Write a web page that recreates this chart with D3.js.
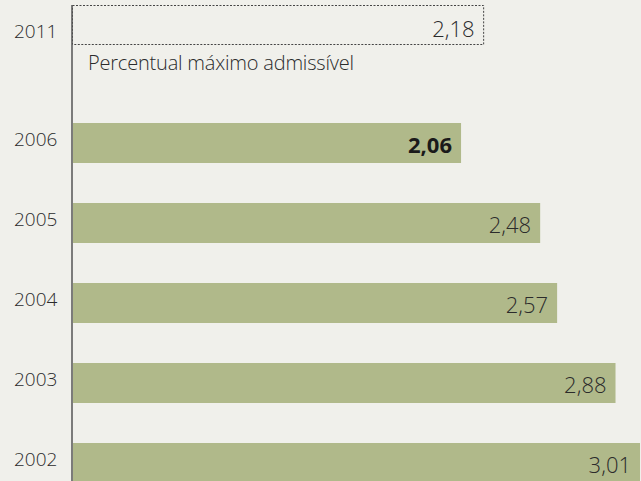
<!DOCTYPE html>
<html>
<head>
<meta charset="utf-8">
<script src="https://cdn.jsdelivr.net/npm/d3@7.9.0/dist/d3.min.js"></script>
<style>
  html, body { margin: 0; padding: 0; background: #f0f0eb; }
  svg { display: block; font-family: "Open Sans", "Noto Sans", sans-serif; }
</style>
</head>
<body>
<div id="chart"></div>
<script>
// Data
const years = ["2006", "2005", "2004", "2003", "2002"];
const values = [2.06, 2.48, 2.57, 2.88, 3.01];
const limitYear = ["2011"];
const limitValue = [2.18];
const limitLabel = "Percentual máximo admissível";
const highlightYear = "2006";

const width = 641;
const height = 481;
const axisX = 72;

const fmt = (v) => v.toFixed(2).replace(".", ",");

const xScale = d3.scaleLinear().domain([0, 3.01]).range([axisX + 1, 640]);
const yScale = d3
  .scaleBand()
  .domain(years)
  .range([103, 503])
  .paddingInner(0.5)
  .paddingOuter(0.25);
const yLimit = d3.scaleBand().domain(limitYear).range([5, 44]);

const svg = d3
  .select("#chart")
  .append("svg")
  .attr("width", width)
  .attr("height", height);

svg
  .append("rect")
  .attr("width", width)
  .attr("height", height)
  .attr("fill", "#f0f0eb");

// Bars
svg
  .append("g")
  .selectAll("rect")
  .data(years)
  .enter()
  .append("rect")
  .attr("x", xScale(0))
  .attr("y", (d) => yScale(d))
  .attr("width", (d, i) => xScale(values[i]) - xScale(0))
  .attr("height", yScale.bandwidth())
  .attr("fill", "#b0b98a");

// Limit box (2011)
svg
  .append("g")
  .selectAll("rect")
  .data(limitYear)
  .enter()
  .append("rect")
  .attr("x", axisX + 0.5)
  .attr("y", (d) => yLimit(d) + 0.5)
  .attr("width", (d, i) => xScale(limitValue[i]) - axisX - 0.5)
  .attr("height", yLimit.bandwidth())
  .attr("fill", "none")
  .attr("stroke", "#444")
  .attr("stroke-width", 1)
  .attr("stroke-dasharray", "2,1.5");

// Value labels
svg
  .append("g")
  .selectAll("text")
  .data(years)
  .enter()
  .append("text")
  .attr("x", (d, i) => xScale(values[i]) - 9)
  .attr("y", (d) => yScale(d) + yScale.bandwidth() / 2 + 10)
  .attr("text-anchor", "end")
  .attr("font-size", 22)
  .attr("font-weight", (d) => (d === highlightYear ? 700 : 300))
  .attr("fill", (d) => (d === highlightYear ? "#1a1a1a" : "#2b2b2b"))
  .text((d, i) => fmt(values[i]));

svg
  .append("g")
  .selectAll("text")
  .data(limitYear)
  .enter()
  .append("text")
  .attr("x", (d, i) => xScale(limitValue[i]) - 9)
  .attr("y", (d) => yLimit(d) + yLimit.bandwidth() / 2 + 12)
  .attr("text-anchor", "end")
  .attr("font-size", 22)
  .attr("font-weight", 300)
  .attr("fill", "#2b2b2b")
  .text((d, i) => fmt(limitValue[i]));

svg
  .append("text")
  .attr("x", 88)
  .attr("y", 70)
  .attr("font-size", 20)
  .attr("font-weight", 300)
  .attr("letter-spacing", -0.2)
  .attr("fill", "#2b2b2b")
  .text(limitLabel);

// Year labels
svg
  .append("g")
  .selectAll("text")
  .data(years)
  .enter()
  .append("text")
  .attr("x", 14)
  .attr("y", (d) => yScale(d) + yScale.bandwidth() / 2 + 3)
  .attr("font-size", 19)
  .attr("font-weight", 300)
  .attr("fill", "#2b2b2b")
  .text((d) => d);

svg
  .append("g")
  .selectAll("text")
  .data(limitYear)
  .enter()
  .append("text")
  .attr("x", 14)
  .attr("y", (d) => yLimit(d) + yLimit.bandwidth() / 2 + 13)
  .attr("font-size", 19)
  .attr("font-weight", 300)
  .attr("fill", "#2b2b2b")
  .text((d) => d);

// Axis line
svg
  .append("line")
  .attr("x1", axisX)
  .attr("x2", axisX)
  .attr("y1", 5)
  .attr("y2", height)
  .attr("stroke", "#555")
  .attr("stroke-width", 1.5);
</script>
</body>
</html>
